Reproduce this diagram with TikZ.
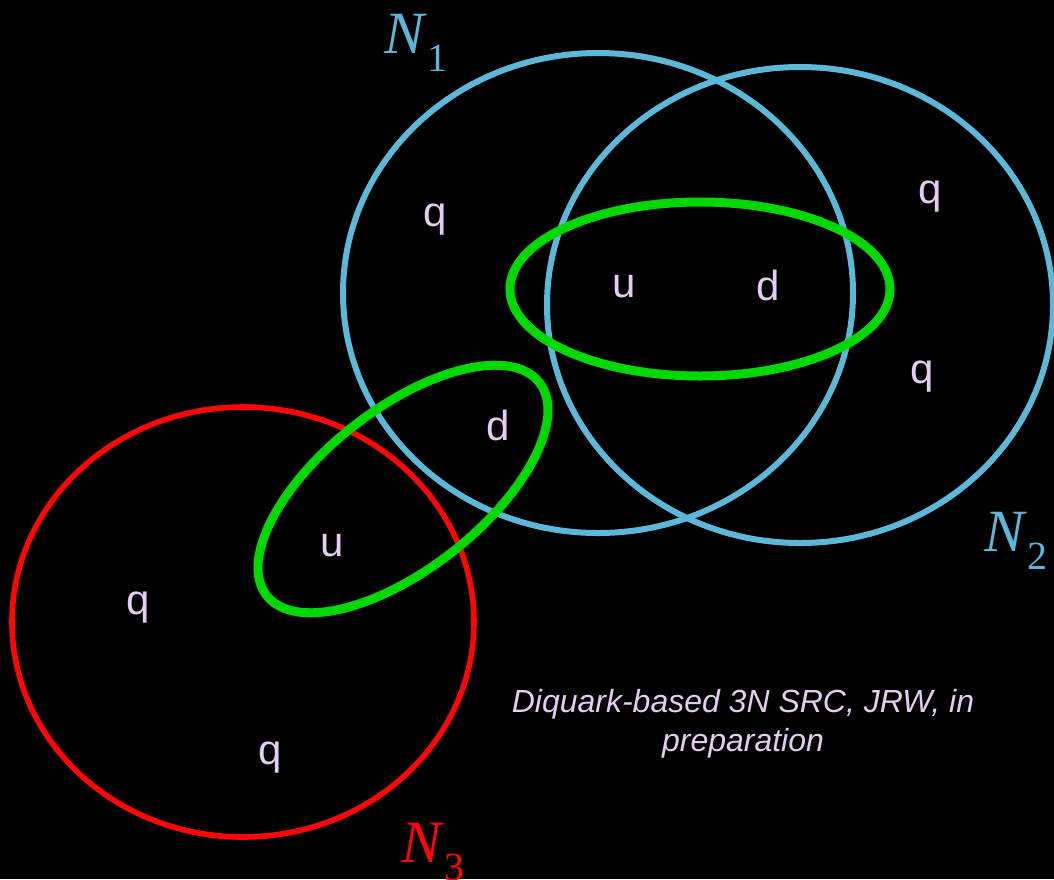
\documentclass[tikz,border=0pt]{standalone}
\usepackage{fontspec}
\setmainfont{Liberation Sans}
\newfontfamily\nfont{Liberation Serif}
\usetikzlibrary{positioning}

\definecolor{nucblue}{HTML}{5BB8D9}
\definecolor{diqgreen}{HTML}{00D800}
\definecolor{nucred}{HTML}{FF0505}
\definecolor{lilac}{HTML}{E6CCF2}

\begin{document}
\begin{tikzpicture}[
  x=0.5pt, y=-0.5pt,
  nucleon/.style={line width=3pt},
  diquark/.style={draw=diqgreen, line width=4.5pt},
  quark/.style={text=lilac, font=\fontsize{21}{24}\selectfont, inner sep=0pt, anchor=base},
  nlabel/.style={font=\nfont\fontsize{30}{34}\selectfont, inner sep=0pt, anchor=base west},
]
  % background and page size
  \fill[black] (0,0) rectangle (1054,879);
  \useasboundingbox (0,0) rectangle (1054,879);

  % nucleons
  \draw[nucleon, draw=nucblue] (598,293) ellipse [x radius=255, y radius=240];
  \draw[nucleon, draw=nucblue] (800,305) ellipse [x radius=253, y radius=238];
  \draw[nucleon, draw=nucred, line width=2.8pt] (243,622) ellipse [x radius=231, y radius=215];

  % diquarks
  \draw[diquark] (700,289) ellipse [x radius=190, y radius=87];
  \draw[diquark, rotate around={38:(403,489)}] (403,489) ellipse [x radius=173, y radius=80];

  % quarks
  \node[quark] (q1) at (435,226) {q};
  \node[quark] (u1) at (624,297) {u};
  \node[quark] (d1) at (768,300) {d};
  \node[quark] (q2) at (930,203) {q};
  \node[quark] (q3) at (922,383) {q};
  \node[quark] (d2) at (498,440) {d};
  \node[quark] (u2) at (332,556) {u};
  \node[quark] (q4) at (138,614) {q};
  \node[quark] (q5) at (270,764) {q};

  % nucleon labels
  \node[nlabel, text=nucblue] (n1) at (384,53) {\textit{N}\raisebox{-9pt}{\fontsize{20}{22}\selectfont 1}};
  \node[nlabel, text=nucblue] (n2) at (984,551) {\textit{N}\raisebox{-9pt}{\fontsize{20}{22}\selectfont 2}};
  \node[nlabel, text=nucred] (n3) at (401,862) {\textit{N}\raisebox{-9pt}{\fontsize{20}{22}\selectfont 3}};

  % reference
  \node[text=lilac, align=center, font=\itshape\fontsize{16}{19.5}\selectfont] (ref) at (743,724)
    {Diquark-based 3N SRC, JRW, in\\preparation};
\end{tikzpicture}
\end{document}
